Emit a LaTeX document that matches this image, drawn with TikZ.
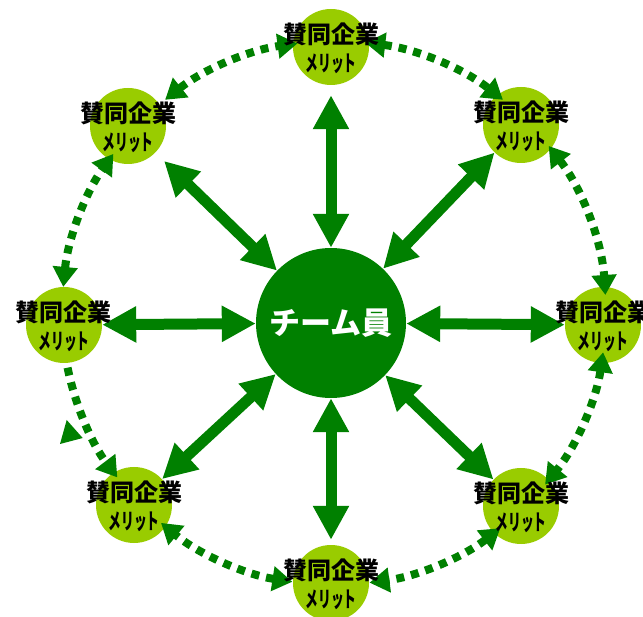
\documentclass[tikz,border=0pt]{standalone}
\usepackage{fontspec}
\usepackage{graphicx}
\newfontfamily\jp{Noto Sans CJK JP}
\usetikzlibrary{arrows.meta}
\definecolor{dg}{RGB}{0,128,0}
\definecolor{lg}{RGB}{153,204,0}
\tikzset{
  outer/.style={circle, fill=lg, minimum size=76pt, inner sep=0pt},
  hub/.style={circle, fill=dg, minimum size=150pt, inner sep=0pt, text=white,
    font=\jp\bfseries\fontsize{31}{31}\selectfont},
  bigarrow/.style={dg, line width=11pt,
    {Triangle[width=34pt,length=34pt]}-{Triangle[width=34pt,length=34pt]}},
  dots/.style={dg, line width=8pt, dash pattern=on 8pt off 7pt},
  dtips/.style={{Triangle[width=24pt,length=20pt]}-{Triangle[width=24pt,length=20pt]}},
  dtip/.style={-{Triangle[width=24pt,length=20pt]}},
  ttl/.style={inner sep=0pt, font=\jp\bfseries\fontsize{24}{24}\selectfont},
  sub/.style={inner sep=0pt, font=\jp\bfseries\fontsize{22}{22}\selectfont}
}
\newcommand{\merit}{\scalebox{0.58}[1]{メリット}}
\begin{document}
\begin{tikzpicture}[x=1pt,y=-1pt]
\useasboundingbox (0,0) rectangle (643,617);
\coordinate (o) at (334,313);
% circles
\node[hub] (c) at (331,323) {チーム員};
\node[outer] (n1) at (331,47) {};
\node[outer] (n2) at (521,125) {};
\node[outer] (n3) at (603,325) {};
\node[outer] (n4) at (521,506) {};
\node[outer] (n5) at (331,583) {};
\node[outer] (n6) at (134,505) {};
\node[outer] (n7) at (64,325) {};
\node[outer] (n8) at (128,126) {};
% solid arrows
\draw[bigarrow, shorten <=10pt] (n1) -- (c);
\draw[bigarrow] (n2) -- (c);
\draw[bigarrow] (n3) -- (c);
\draw[bigarrow] (n4) -- (c);
\draw[bigarrow, shorten <=5pt] (n5) -- (c);
\draw[bigarrow] (n6) -- (c);
\draw[bigarrow] (n7) -- (c);
\draw[bigarrow, shorten <=12pt] (n8) -- (c);
% dotted arcs
\draw[dots, dtips] ([shift={(-128.4:272)}]o) arc[start angle=-128.4, end angle=-97.7, radius=272];
\draw[dots, dtips] ([shift={(-83.4:272)}]o) arc[start angle=-83.4, end angle=-51.6, radius=272];
\draw[dots, dtips] ([shift={(-37.9:272)}]o) arc[start angle=-37.9, end angle=-3.8, radius=272];
\draw[dots, dtips] ([shift={(8.3:272)}]o) arc[start angle=8.3, end angle=39.1, radius=272];
\draw[dots, dtips] ([shift={(52.3:272)}]o) arc[start angle=52.3, end angle=82.5, radius=272];
\draw[dots, dtips] ([shift={(98.8:272)}]o) arc[start angle=98.8, end angle=129.5, radius=272];
\draw[dots, dtip] ([shift={(168.4:272)}]o) arc[start angle=168.4, end angle=142.8, radius=272];
\draw[dots, dtips] ([shift={(185.5:272)}]o) arc[start angle=185.5, end angle=215.8, radius=272];
\fill[dg] (66.7,420) -- (60,444) -- (82.7,438) -- cycle;
% labels
\foreach \n in {n1,n2,n3,n4,n5,n6,n7,n8}{
  \node[ttl] at ([yshift=13pt]\n.center) {賛同企業};
  \node[sub] at ([yshift=-17pt]\n.center) {\merit};
}
\end{tikzpicture}
\end{document}
